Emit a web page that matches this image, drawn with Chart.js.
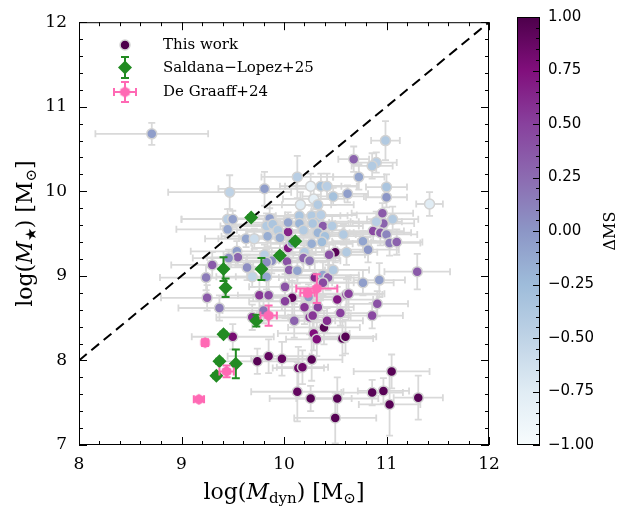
<!DOCTYPE html>
<html>
<head>
<meta charset="utf-8">
<script src="https://cdn.jsdelivr.net/npm/chart.js@4.4.0/dist/chart.umd.min.js"></script>
<style>
  html, body { margin: 0; padding: 0; background: #fff; }
  #wrap { position: relative; width: 631px; height: 513px; }
  #main { position: absolute; left: 0; top: 0; width: 631px; height: 513px; }
  #cbar { position: absolute; left: 490px; top: 0; width: 141px; height: 513px; }
</style>
</head>
<body>
<div id="wrap">
  <div id="main"><canvas id="chart"></canvas></div>
  <div id="cbar"><canvas id="colorbar"></canvas></div>
</div>
<script>
// "This work" sample: log Mdyn, log M*, delta MS and errors
const workMdyn = [
  8.71, 9.47, 9.81, 10.13, 9.45, 9.50, 9.45, 9.63, 9.71, 9.54,
  9.55, 9.46, 9.30, 9.64, 9.69, 9.24, 9.25, 9.76, 9.85, 10.01,
  10.08, 10.04, 10.04, 10.99, 10.68, 10.90, 10.86, 10.73, 10.26, 10.36,
  10.42, 10.29, 10.48, 10.62, 11.00, 11.00, 10.16, 9.86, 10.04, 10.15,
  10.15, 10.27, 10.33, 10.38, 10.47, 10.58, 10.77, 10.82, 10.96, 10.97,
  11.06, 10.87, 10.94, 11.00, 11.03, 11.10, 9.83, 9.89, 9.94, 9.84,
  9.96, 9.88, 10.03, 10.05, 10.13, 10.20, 10.19, 10.25, 10.30, 10.38,
  10.43, 10.50, 10.44, 10.61, 10.48, 10.61, 10.77, 10.93, 10.91, 9.83,
  11.42, 11.30, 9.74, 9.85, 9.98, 10.14, 10.18, 10.27, 10.13, 10.26,
  10.52, 10.50, 10.86, 10.97, 11.05, 11.03, 11.31, 10.57, 10.60, 10.39,
  10.29, 10.32, 10.42, 10.25, 10.20, 10.33, 10.55, 10.10, 10.52, 10.63,
  10.86, 10.01, 9.80, 10.24, 9.37, 9.50, 9.69, 10.38, 10.28, 10.33,
  10.36, 10.28, 10.19, 10.33, 10.40, 10.27, 10.37, 10.90, 10.08, 9.81,
  9.83
];
const workMstar = [
  10.68, 9.99, 10.03, 10.17, 9.67, 9.67, 9.55, 9.44, 9.44, 9.29,
  9.22, 9.21, 9.13, 9.10, 8.99, 8.98, 8.74, 8.77, 8.77, 8.87,
  8.74, 9.52, 9.33, 10.60, 10.38, 10.34, 10.30, 10.17, 10.06, 10.06,
  10.06, 9.91, 9.94, 9.97, 10.05, 9.93, 9.84, 9.68, 9.63, 9.71,
  9.62, 9.71, 9.64, 9.59, 9.59, 9.49, 9.41, 9.31, 9.74, 9.62,
  9.67, 9.53, 9.51, 9.49, 9.39, 9.40, 9.59, 9.61, 9.54, 9.47,
  9.45, 9.18, 9.17, 9.07, 9.06, 9.28, 9.21, 9.18, 8.98, 9.01,
  8.98, 9.28, 9.25, 9.28, 9.07, 8.78, 8.92, 8.95, 8.67, 8.99,
  9.85, 9.05, 7.99, 8.05, 8.02, 7.91, 7.92, 8.01, 7.63, 7.55,
  7.55, 7.32, 7.62, 7.64, 7.87, 7.48, 7.56, 8.26, 8.28, 8.39,
  8.32, 8.25, 8.47, 8.51, 8.63, 8.63, 8.56, 8.47, 8.72, 8.79,
  8.53, 8.70, 8.59, 8.75, 8.62, 8.28, 8.51, 8.92, 8.53, 9.84,
  9.72, 9.62, 9.54, 9.51, 9.47, 9.38, 9.40, 9.64, 9.39, 9.25,
  9.16
];
const workDms = [
  -0.05, -0.5, -0.05, -0.45, -0.45, -0.05, -0.1, -0.1, -0.6, -0.05,
  0.3, 0.05, 0.35, 0.05, -0.5, 0.15, 0.35, 0.55, 0.45, 0.4,
  0.9, 0.65, 0.7, -0.4, 0.3, -0.45, -0.4, -0.1, -0.85, -0.3,
  -0.45, -0.8, -0.3, -0.05, -0.35, 0.0, -0.75, -0.05, -0.1, -0.35,
  -0.2, -0.4, -0.4, 0.35, -0.4, -0.4, -0.1, 0.0, 0.35, 0.3,
  -0.4, 0.45, 0.35, 0.1, 0.15, 0.3, -0.4, -0.35, -0.4, -0.15,
  -0.15, 0.05, 0.4, 0.35, -0.1, -0.4, 0.3, 0.2, 0.65, -0.1,
  0.35, 0.95, 0.4, -0.4, -0.4, 0.6, -0.05, -0.05, 0.4, -0.1,
  -0.75, 0.35, 0.95, 0.9, 0.9, 0.85, 0.85, 0.95, 0.9, 0.95,
  0.95, 0.95, 0.95, 0.95, 0.95, 0.95, 0.95, 0.95, 0.95, 0.95,
  0.75, 0.75, 0.6, 0.55, 0.55, 0.5, 0.5, 0.3, 0.7, 0.5,
  0.45, 0.5, 0.2, -0.05, 0.15, 0.8, 0.6, 0.45, 0.55, -0.4,
  -0.45, -0.35, -0.4, -0.2, -0.3, -0.15, -0.25, -0.45, -0.1, -0.45,
  0.05
];
const workMdynErr = [
  0.55, 0.6, 0.45, 0.35, 0.45, 0.5, 0.5, 0.4, 0.35, 0.45,
  0.3, 0.35, 0.4, 0.4, 0.35, 0.45, 0.45, 0.35, 0.3, 0.35,
  0.3, 0.4, 0.35, 0.14, 0.15, 0.2, 0.2, 0.25, 0.3, 0.35,
  0.3, 0.3, 0.3, 0.2, 0.2, 0.2, 0.3, 0.35, 0.4, 0.4,
  0.35, 0.35, 0.4, 0.35, 0.3, 0.35, 0.3, 0.3, 0.3, 0.3,
  0.25, 0.3, 0.3, 0.3, 0.3, 0.25, 0.45, 0.4, 0.4, 0.45,
  0.4, 0.35, 0.4, 0.35, 0.35, 0.4, 0.35, 0.3, 0.35, 0.35,
  0.3, 0.3, 0.35, 0.3, 0.35, 0.35, 0.3, 0.25, 0.3, 0.3,
  0.13, 0.32, 0.4, 0.4, 0.3, 0.25, 0.25, 0.3, 0.45, 0.4,
  0.4, 0.4, 0.3, 0.25, 0.37, 0.3, 0.24, 0.3, 0.3, 0.35,
  0.35, 0.3, 0.35, 0.4, 0.4, 0.35, 0.35, 0.4, 0.35, 0.35,
  0.3, 0.35, 0.4, 0.35, 0.4, 0.4, 0.35, 0.3, 0.35, 0.35,
  0.35, 0.35, 0.4, 0.35, 0.35, 0.4, 0.35, 0.25, 0.4, 0.4,
  0.35
];
const workMstarErr = [
  0.13, 0.2, 0.2, 0.25, 0.12, 0.1, 0.1, 0.1, 0.12, 0.12,
  0.1, 0.1, 0.15, 0.15, 0.12, 0.15, 0.15, 0.2, 0.2, 0.15,
  0.2, 0.15, 0.15, 0.23, 0.15, 0.12, 0.15, 0.15, 0.15, 0.15,
  0.15, 0.12, 0.1, 0.1, 0.15, 0.12, 0.15, 0.12, 0.12, 0.12,
  0.1, 0.12, 0.12, 0.12, 0.12, 0.12, 0.12, 0.15, 0.12, 0.12,
  0.15, 0.12, 0.15, 0.12, 0.15, 0.15, 0.15, 0.12, 0.12, 0.12,
  0.12, 0.15, 0.15, 0.15, 0.15, 0.12, 0.15, 0.12, 0.18, 0.15,
  0.15, 0.12, 0.12, 0.15, 0.15, 0.18, 0.15, 0.2, 0.15, 0.15,
  0.14, 0.21, 0.15, 0.2, 0.2, 0.25, 0.2, 0.25, 0.35, 0.15,
  0.25, 0.3, 0.15, 0.15, 0.2, 0.37, 0.26, 0.2, 0.2, 0.2,
  0.2, 0.2, 0.15, 0.2, 0.2, 0.15, 0.15, 0.2, 0.15, 0.2,
  0.15, 0.2, 0.15, 0.15, 0.15, 0.15, 0.15, 0.15, 0.15, 0.12,
  0.12, 0.12, 0.12, 0.12, 0.12, 0.12, 0.12, 0.12, 0.12, 0.12,
  0.15
];

// Saldana-Lopez+25
const slMdyn = [9.68, 10.11, 9.96, 9.41, 9.78, 9.43, 9.73, 9.41, 9.37, 9.53, 9.34];
const slMstar = [9.69, 9.41, 9.24, 9.08, 9.08, 8.86, 8.47, 8.31, 7.99, 7.96, 7.82];
const slMstarErr = [0.03, 0.03, 0.03, 0.14, 0.13, 0.11, 0.07, 0.03, 0.03, 0.17, 0.03];

// De Graaff+24
const dgMdyn = [9.17, 9.23, 9.44, 9.85, 10.23, 10.32];
const dgMstar = [7.54, 8.21, 7.87, 8.53, 8.80, 8.85];
const dgMdynErr = [0.05, 0.02, 0.07, 0.08, 0.07, 0.2];
const dgMstarErr = [0.02, 0.04, 0.07, 0.12, 0.04, 0.17];

const xTicks = [8, 9, 10, 11, 12];
const yTicks = [7, 8, 9, 10, 11, 12];
const cbTicks = [-1, -0.75, -0.5, -0.25, 0, 0.25, 0.5, 0.75, 1];

// BuPu colormap
const bupu = ['#f7fcfd', '#e0ecf4', '#bfd3e6', '#9ebcda', '#8c96c6', '#8c6bb1', '#88419d', '#810f7c', '#4d004b'];

function hexToRgb(h) {
    return [parseInt(h.slice(1, 3), 16), parseInt(h.slice(3, 5), 16), parseInt(h.slice(5, 7), 16)];
}
function dmsColor(v) {
    let t = Math.max(0, Math.min(1, (v + 1) / 2)) * (bupu.length - 1);
    const i = Math.min(bupu.length - 2, Math.floor(t));
    const f = t - i;
    const a = hexToRgb(bupu[i]), b = hexToRgb(bupu[i + 1]);
    const c = a.map((k, j) => Math.round(k + (b[j] - k) * f));
    return 'rgb(' + c.join(',') + ')';
}

const SERIF = '"DejaVu Serif", "Liberation Serif", serif';
const GREEN = '#228b22';
const PINK = '#ff69b4';
const ERRGRAY = '#d9d9d9';

// hexagon marker for De Graaff+24
function hexagon(r, color) {
    const c = document.createElement('canvas');
    c.width = c.height = 2 * r + 2;
    const g = c.getContext('2d');
    g.beginPath();
    for (let i = 0; i < 6; i++) {
        const a = -Math.PI / 2 + i * Math.PI / 3;
        g.lineTo(r + 1 + r * Math.cos(a), r + 1 + r * Math.sin(a));
    }
    g.closePath();
    g.fillStyle = color;
    g.fill();
    return c;
}
const hexImg = hexagon(5.5, PINK);

// error bars
function drawErrors(chart, ds) {
    const { ctx, chartArea: a, scales: { x, y } } = chart;
    ctx.save();
    ctx.beginPath();
    ctx.rect(a.left, a.top, a.right - a.left, a.bottom - a.top);
    ctx.clip();
    ctx.strokeStyle = ds.errColor;
    ctx.lineWidth = ds.errWidth;
    const cap = ds.errCap;
    ds.data.forEach((p, i) => {
        const px = x.getPixelForValue(p.x), py = y.getPixelForValue(p.y);
        ctx.beginPath();
        if (ds.errX && ds.errX[i]) {
            const x0 = x.getPixelForValue(p.x - ds.errX[i]), x1 = x.getPixelForValue(p.x + ds.errX[i]);
            ctx.moveTo(x0, py); ctx.lineTo(x1, py);
            ctx.moveTo(x0, py - cap); ctx.lineTo(x0, py + cap);
            ctx.moveTo(x1, py - cap); ctx.lineTo(x1, py + cap);
        }
        if (ds.errY && ds.errY[i]) {
            const y0 = y.getPixelForValue(p.y - ds.errY[i]), y1 = y.getPixelForValue(p.y + ds.errY[i]);
            ctx.moveTo(px, y0); ctx.lineTo(px, y1);
            ctx.moveTo(px - cap, y0); ctx.lineTo(px + cap, y0);
            ctx.moveTo(px - cap, y1); ctx.lineTo(px + cap, y1);
        }
        ctx.stroke();
    });
    ctx.restore();
}

const errorBars = {
    id: 'errorBars',
    beforeDatasetsDraw(chart) {
        chart.data.datasets.forEach(ds => {
            if (ds.errLayer === 'under') drawErrors(chart, ds);
        });
    },
    beforeDatasetDraw(chart, args) {
        const ds = chart.data.datasets[args.index];
        if (ds.errLayer === 'own') drawErrors(chart, ds);
    }
};

// text with italic / subscript pieces
function richText(ctx, parts, cx, cy, size, angle) {
    ctx.save();
    ctx.translate(cx, cy);
    ctx.rotate(angle);
    ctx.fillStyle = '#000';
    ctx.textBaseline = 'middle';
    ctx.textAlign = 'left';
    const fontOf = p => (p.it ? 'italic ' : '') + (p.sub ? Math.round(size * 0.7) : size) + 'px ' + SERIF;
    const widths = parts.map(p => { ctx.font = fontOf(p); return ctx.measureText(p.t).width; });
    let x = -widths.reduce((s, w) => s + w, 0) / 2;
    parts.forEach((p, i) => {
        ctx.font = fontOf(p);
        ctx.fillText(p.t, x, p.sub ? size * 0.3 : 0);
        x += widths[i];
    });
    ctx.restore();
}

function line(ctx, x0, y0, x1, y1) {
    ctx.beginPath(); ctx.moveTo(x0, y0); ctx.lineTo(x1, y1); ctx.stroke();
}

const frameAndLegend = {
    id: 'frameAndLegend',
    afterDatasetsDraw(chart) {
        const { ctx, chartArea: a, scales: { x, y } } = chart;
        ctx.save();
        ctx.strokeStyle = '#000';
        ctx.lineWidth = 1;
        ctx.strokeRect(a.left + 0.5, a.top + 0.5, a.right - a.left - 1, a.bottom - a.top - 1);
        for (let i = 0; i <= 20; i++) {
            const px = Math.round(x.getPixelForValue(8 + i * 0.2)) + 0.5;
            const L = i % 5 === 0 ? 8 : 4;
            line(ctx, px, a.bottom, px, a.bottom - L);
            line(ctx, px, a.top, px, a.top + L);
        }
        for (let i = 0; i <= 25; i++) {
            const py = Math.round(y.getPixelForValue(7 + i * 0.2)) + 0.5;
            const L = i % 5 === 0 ? 8 : 4;
            line(ctx, a.left, py, a.left + L, py);
            line(ctx, a.right, py, a.right - L, py);
        }

        // legend
        const mx = 125, tx = 163;
        ctx.fillStyle = '#4d004b';
        ctx.strokeStyle = '#d3d3d3';
        ctx.lineWidth = 1.5;
        ctx.beginPath(); ctx.arc(mx, 45, 5, 0, Math.PI * 2); ctx.fill(); ctx.stroke();

        ctx.strokeStyle = GREEN; ctx.lineWidth = 2;
        line(ctx, mx, 57, mx, 78);
        line(ctx, mx - 4, 57, mx + 4, 57);
        line(ctx, mx - 4, 78, mx + 4, 78);
        ctx.fillStyle = GREEN;
        ctx.beginPath();
        ctx.moveTo(mx, 60.5); ctx.lineTo(mx + 7, 67.5); ctx.lineTo(mx, 74.5); ctx.lineTo(mx - 7, 67.5);
        ctx.closePath(); ctx.fill();

        ctx.strokeStyle = PINK;
        line(ctx, mx - 11, 92, mx + 11, 92);
        line(ctx, mx - 11, 88, mx - 11, 96);
        line(ctx, mx + 11, 88, mx + 11, 96);
        line(ctx, mx, 82, mx, 102);
        line(ctx, mx - 4, 82, mx + 4, 82);
        line(ctx, mx - 4, 102, mx + 4, 102);
        ctx.drawImage(hexImg, mx - hexImg.width / 2, 92 - hexImg.height / 2);

        ctx.fillStyle = '#000';
        ctx.font = '15px ' + SERIF;
        ctx.textBaseline = 'middle';
        ctx.textAlign = 'left';
        ctx.fillText('This work', tx, 45);
        ctx.fillText('Saldana\u2212Lopez+25', tx, 68);
        ctx.fillText('De Graaff+24', tx, 92);
        ctx.restore();

        // axis titles
        richText(ctx, [
            { t: 'log(' }, { t: 'M', it: true }, { t: 'dyn', sub: true }, { t: ')' },
            { t: ' [M' }, { t: '\u2299', sub: true }, { t: ']' }
        ], (a.left + a.right) / 2, 493, 22, 0);
        richText(ctx, [
            { t: 'log(' }, { t: 'M', it: true }, { t: '\u2605', sub: true }, { t: ')' },
            { t: ' [M' }, { t: '\u2299', sub: true }, { t: ']' }
        ], 26, (a.top + a.bottom) / 2, 22, -Math.PI / 2);
    }
};

const workData = workMdyn.map((v, i) => ({ x: v, y: workMstar[i] }));
const slData = slMdyn.map((v, i) => ({ x: v, y: slMstar[i] }));
const dgData = dgMdyn.map((v, i) => ({ x: v, y: dgMstar[i] }));

new Chart(document.getElementById('chart'), {
    type: 'scatter',
    data: {
        datasets: [
            {
                label: 'one-to-one',
                type: 'line',
                data: [{ x: 8, y: 8 }, { x: 12, y: 12 }],
                borderColor: '#000',
                borderWidth: 2,
                borderDash: [10, 6],
                pointRadius: 0,
                fill: false,
                order: 3
            },
            {
                label: 'This work',
                data: workData,
                pointRadius: 5,
                pointBackgroundColor: workDms.map(dmsColor),
                pointBorderColor: '#d3d3d3',
                pointBorderWidth: 1.5,
                errX: workMdynErr,
                errY: workMstarErr,
                errColor: ERRGRAY,
                errWidth: 1.8,
                errCap: 3.5,
                errLayer: 'under',
                order: 2
            },
            {
                label: 'Saldana\u2212Lopez+25',
                data: slData,
                pointStyle: 'rectRot',
                pointRadius: 7,
                pointBackgroundColor: GREEN,
                pointBorderWidth: 0,
                errY: slMstarErr,
                errColor: GREEN,
                errWidth: 2,
                errCap: 4,
                errLayer: 'own',
                order: 1
            },
            {
                label: 'De Graaff+24',
                data: dgData,
                pointStyle: hexImg,
                pointRadius: 5.5,
                errX: dgMdynErr,
                errY: dgMstarErr,
                errColor: PINK,
                errWidth: 2,
                errCap: 4,
                errLayer: 'own',
                order: 0
            }
        ]
    },
    options: {
        responsive: true,
        maintainAspectRatio: false,
        animation: false,
        events: [],
        layout: { padding: { left: 0, top: 10, right: 142, bottom: 0 } },
        plugins: { legend: { display: false }, tooltip: { enabled: false } },
        scales: {
            x: {
                type: 'linear', min: 8, max: 12,
                afterFit: s => { s.height = 68; },
                afterBuildTicks: s => { s.ticks = xTicks.map(v => ({ value: v })); },
                grid: { display: false, drawTicks: false },
                border: { display: false },
                ticks: { padding: 9, color: '#000', font: { family: SERIF, size: 17 } }
            },
            y: {
                type: 'linear', min: 7, max: 12,
                afterFit: s => { s.width = 79; },
                afterBuildTicks: s => { s.ticks = yTicks.map(v => ({ value: v })); },
                grid: { display: false, drawTicks: false },
                border: { display: false },
                ticks: { padding: 12, color: '#000', font: { family: SERIF, size: 17 } }
            }
        }
    },
    plugins: [errorBars, frameAndLegend]
});

// colour bar
const colorbarFrame = {
    id: 'colorbarFrame',
    afterDraw(chart) {
        const { ctx, chartArea: a, scales: { y } } = chart;
        ctx.save();
        ctx.strokeStyle = '#000';
        ctx.lineWidth = 1;
        for (let i = 0; i <= 40; i++) {
            const py = Math.round(y.getPixelForValue(-1 + i * 0.05)) + 0.5;
            const L = i % 5 === 0 ? 7 : 4;
            line(ctx, a.right, py, a.right - L, py);
        }
        ctx.strokeRect(a.left + 0.5, a.top + 0.5, a.right - a.left - 1, a.bottom - a.top - 1);
        ctx.translate(121, (a.top + a.bottom) / 2);
        ctx.rotate(-Math.PI / 2);
        ctx.fillStyle = '#000';
        ctx.font = '16px ' + SERIF;
        ctx.textAlign = 'center';
        ctx.textBaseline = 'middle';
        ctx.fillText('\u0394MS', 0, 0);
        ctx.restore();
    }
};

new Chart(document.getElementById('colorbar'), {
    type: 'bar',
    data: {
        labels: [''],
        datasets: [{
            data: [[-1, 1]],
            backgroundColor: c => {
                const ca = c.chart.chartArea;
                if (!ca) return null;
                const g = c.chart.ctx.createLinearGradient(0, ca.bottom, 0, ca.top);
                bupu.forEach((col, i) => g.addColorStop(i / (bupu.length - 1), col));
                return g;
            },
            borderWidth: 0,
            barPercentage: 1,
            categoryPercentage: 1
        }]
    },
    options: {
        responsive: true,
        maintainAspectRatio: false,
        animation: false,
        events: [],
        layout: { padding: { left: 27, top: 10, right: 0, bottom: 68 } },
        plugins: { legend: { display: false }, tooltip: { enabled: false } },
        scales: {
            x: { display: false },
            y: {
                position: 'right', min: -1, max: 1,
                afterFit: s => { s.width = 91; },
                afterBuildTicks: s => { s.ticks = cbTicks.map(v => ({ value: v })); },
                grid: { display: false, drawTicks: false },
                border: { display: false },
                ticks: {
                    padding: 8, color: '#000',
                    font: { family: '"DejaVu Sans", sans-serif', size: 15 },
                    callback: v => (v < 0 ? '\u2212' : '') + Math.abs(v).toFixed(2)
                }
            }
        }
    },
    plugins: [colorbarFrame]
});
</script>
</body>
</html>
